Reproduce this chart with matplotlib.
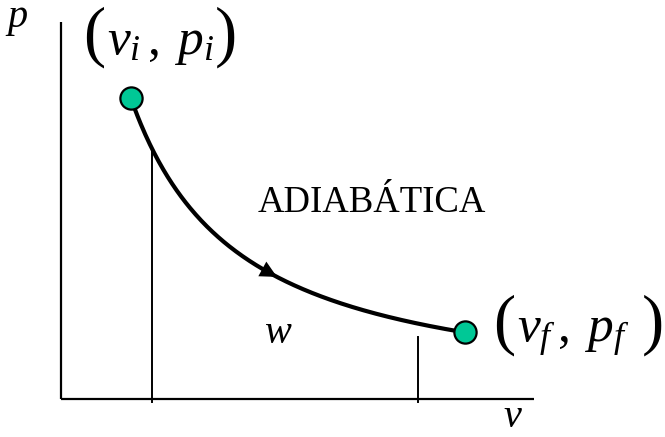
import numpy as np
import matplotlib
matplotlib.use('Agg')
import matplotlib.pyplot as plt

plt.rcParams['font.family'] = ['Liberation Serif', 'DejaVu Serif']
plt.rcParams['mathtext.fontset'] = 'custom'
plt.rcParams['mathtext.rm'] = 'Liberation Serif'
plt.rcParams['mathtext.it'] = 'Liberation Serif:italic'

# end states of the process
v_states = [1.0, 3.8]
p_states = [4.5, 1.0]
state_labels = [r'$v_{i}\,,\;p_{i}$', r'$v_{f}\,,\;p_{f}$']

# vertical markers bounding the work area
edge_v = [1.18, 3.40]
edge_p = [3.73, 0.93]

# adiabat p v^gamma = const through both states
gamma = np.log(p_states[0] / p_states[1]) / np.log(v_states[1] / v_states[0])
const = p_states[0] * v_states[0] ** gamma
v = np.linspace(v_states[0], v_states[1], 300)
p = const / v ** gamma

fig = plt.figure(figsize=(6.65, 4.37), dpi=100)
ax = fig.add_axes([0, 0, 1, 1])
ax.set_xlim(-0.0946, 5.470)
ax.set_ylim(-0.560, 5.963)
ax.axis('off')

# axes drawn by hand
v0 = 0.42
ax.plot([v0, v0], [0, 5.63], color='k', lw=1.6, solid_capstyle='butt')
ax.plot([v0, 4.374], [0, 0], color='k', lw=1.6, solid_capstyle='butt')

for ev, ep in zip(edge_v, edge_p):
    ax.plot([ev, ev], [-0.04, ep], color='k', lw=1.4)

ax.plot(v, p, color='k', lw=3.0)

# direction arrow on the curve
v_tip = 2.223
v_tail = v_tip - 0.1
ax.annotate('', xy=(v_tip, const / v_tip ** gamma),
            xytext=(v_tail, const / v_tail ** gamma),
            arrowprops=dict(arrowstyle='-|>', mutation_scale=30, color='k', lw=0,
                            shrinkA=0, shrinkB=0))

ax.plot(v_states, p_states, 'o', ms=16, mfc='#00C896', mec='k', mew=1.6, zorder=5)


def state_label(x_open, x_inner, x_close, y_base, label):
    # tall parentheses around the coordinate pair
    ax.text(x_open, y_base, '(', fontsize=48, ha='left', va='baseline')
    ax.text(x_inner, y_base, label, fontsize=37, ha='left', va='baseline')
    ax.text(x_close, y_base, ')', fontsize=48, ha='right', va='baseline')


state_label(0.600, 0.797, 1.885, 5.157, state_labels[0])
state_label(4.031, 4.228, 5.462, 0.858, state_labels[1])

ax.text(3.018, 2.80, 'ADIABÁTICA', fontsize=26.5, ha='center', va='baseline')
ax.text(2.228, 0.843, 'w', fontsize=29, style='italic', ha='center', va='baseline')
ax.text(0.048, 5.56, 'p', fontsize=29, style='italic', ha='center', va='baseline')
ax.text(4.194, -0.41, 'v', fontsize=29, style='italic', ha='center', va='baseline')

fig.savefig('out.png', dpi=100)
